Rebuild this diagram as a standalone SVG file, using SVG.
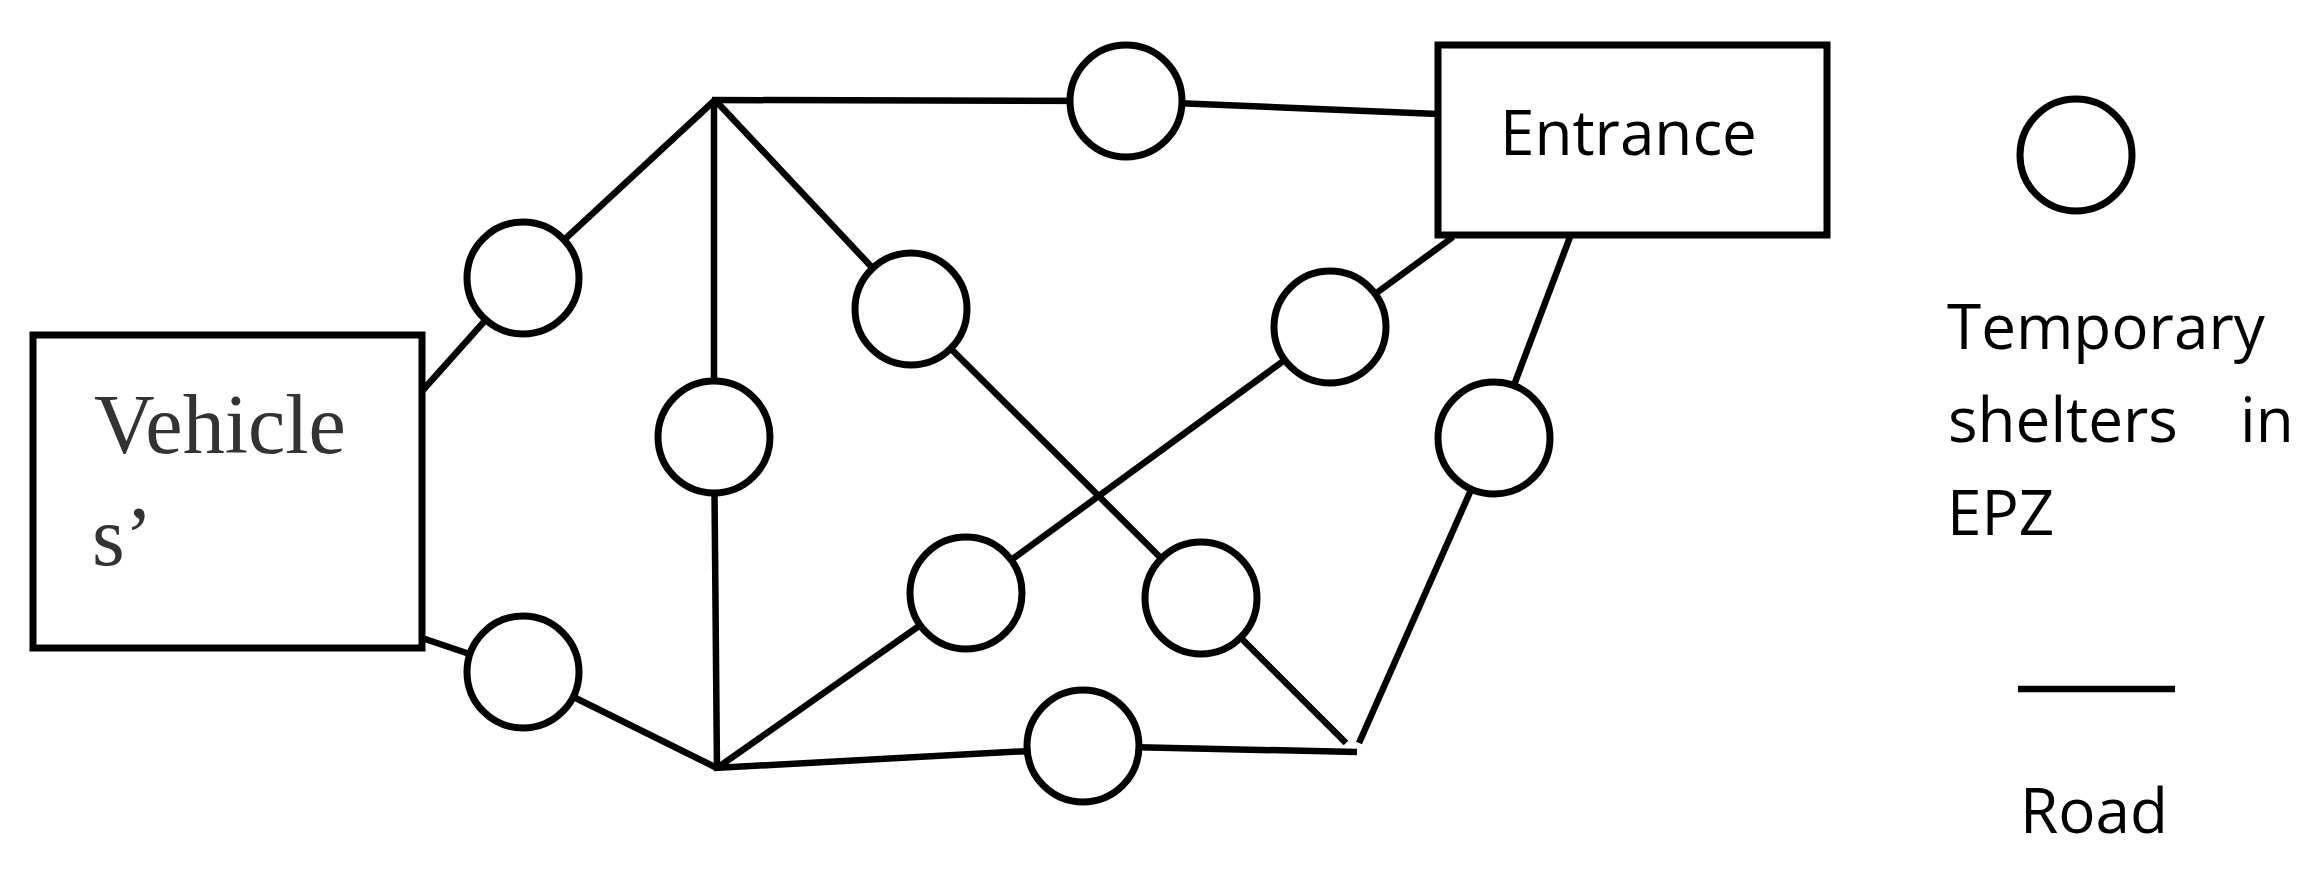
<svg xmlns="http://www.w3.org/2000/svg" width="2309" height="869" viewBox="0 0 2309 869">
<style>
.box{fill:#fff;stroke:#000;stroke-width:7}
.shelter{fill:#fff;stroke:#000;stroke-width:7}
.road{stroke:#000;stroke-width:6.5;stroke-linecap:butt;fill:none}
.sans{font-family:"Open Sans","Liberation Sans",sans-serif;font-size:62px;fill:#000}
.serif{font-family:"Liberation Serif","DejaVu Serif",serif;font-size:84px;fill:#333}
</style>
<rect width="2309" height="869" fill="#fff"/>
<g id="connectors">
<line class="road" x1="423" y1="390" x2="523" y2="278"/>
<line class="road" x1="523" y1="278" x2="715" y2="100"/>
<line class="road" x1="422" y1="638" x2="523" y2="672"/>
<line class="road" x1="523" y1="672" x2="717" y2="768"/>
<line class="road" x1="712" y1="100" x2="1126" y2="101"/>
<line class="road" x1="1126" y1="101" x2="1438" y2="114"/>
<line class="road" x1="714" y1="100" x2="714" y2="437"/>
<line class="road" x1="714" y1="437" x2="717" y2="770"/>
<line class="road" x1="715" y1="100" x2="911" y2="309"/>
<line class="road" x1="911" y1="309" x2="1201" y2="598"/>
<line class="road" x1="1201" y1="598" x2="1346" y2="743"/>
<line class="road" x1="717" y1="768" x2="966" y2="593"/>
<line class="road" x1="966" y1="593" x2="1330" y2="327"/>
<line class="road" x1="1330" y1="327" x2="1453" y2="237"/>
<line class="road" x1="1570" y1="237" x2="1494" y2="438"/>
<line class="road" x1="1494" y1="438" x2="1359" y2="743"/>
<line class="road" x1="714" y1="768" x2="1083" y2="748"/>
<line class="road" x1="1083" y1="746" x2="1357" y2="752"/>
</g>
<g id="vehicles">
<rect class="box" x="33" y="335" width="389" height="313"/>
<text class="serif" x="94" y="453">Vehicle</text>
<text class="serif" x="92" y="565">s’</text>
</g>
<g id="entrance">
<rect class="box" x="1438" y="45" width="389" height="190"/>
<text class="sans" x="1500" y="155">Entrance</text>
</g>
<g id="shelter1"><circle class="shelter" cx="523" cy="278" r="56"/></g>
<g id="shelter2"><circle class="shelter" cx="523" cy="672" r="56"/></g>
<g id="shelter3"><circle class="shelter" cx="714" cy="437" r="56"/></g>
<g id="shelter4"><circle class="shelter" cx="911" cy="309" r="56"/></g>
<g id="shelter5"><circle class="shelter" cx="1126" cy="101" r="56"/></g>
<g id="shelter6"><circle class="shelter" cx="1330" cy="327" r="56"/></g>
<g id="shelter7"><circle class="shelter" cx="1494" cy="438" r="56"/></g>
<g id="shelter8"><circle class="shelter" cx="966" cy="593" r="56"/></g>
<g id="shelter9"><circle class="shelter" cx="1201" cy="598" r="56"/></g>
<g id="shelter10"><circle class="shelter" cx="1083" cy="746" r="56"/></g>
<g id="legend">
<circle class="shelter" cx="2076" cy="155" r="56"/>
<text class="sans"><tspan x="1947" y="349">Temporary</tspan><tspan x="1948" y="442">shelters</tspan><tspan x="2240" y="442">in</tspan><tspan x="1947" y="535">EPZ</tspan></text>
<line class="road" x1="2018" y1="689" x2="2175" y2="689"/>
<text class="sans" x="2020" y="833">Road</text>
</g>
</svg>
